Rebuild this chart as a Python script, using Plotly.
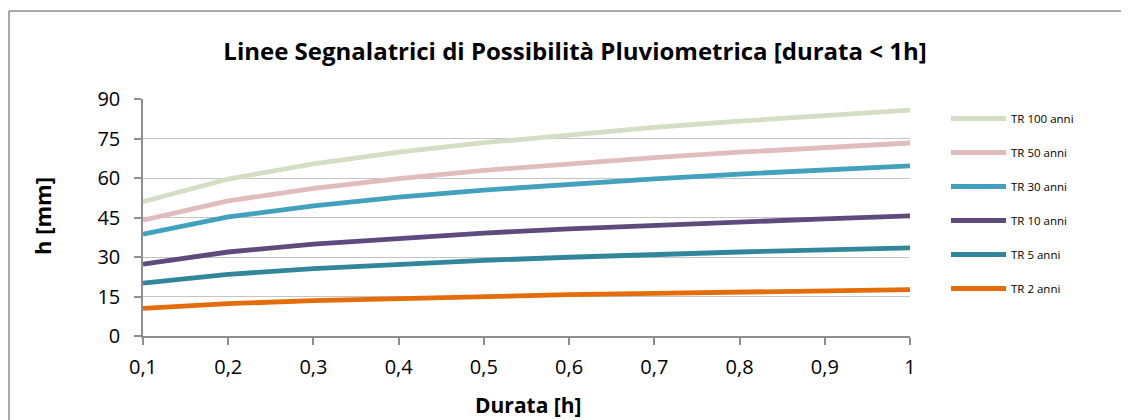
import plotly.graph_objects as go

durata = [0.1, 0.2, 0.3, 0.4, 0.5, 0.6, 0.7, 0.8, 0.9, 1.0]

tr100 = [51.0, 59.6, 65.4, 69.8, 73.4, 76.4, 79.2, 81.6, 83.8, 85.8]
tr50 = [44.0, 51.3, 56.1, 59.8, 62.9, 65.5, 67.7, 69.8, 71.6, 73.3]
tr30 = [38.7, 45.2, 49.4, 52.7, 55.4, 57.7, 59.7, 61.5, 63.1, 64.6]
tr10 = [27.3, 31.9, 34.9, 37.2, 39.1, 40.7, 42.1, 43.4, 44.5, 45.6]
tr5 = [20.1, 23.4, 25.6, 27.3, 28.7, 29.9, 31.0, 31.9, 32.7, 33.5]
tr2 = [10.5, 12.3, 13.4, 14.3, 15.1, 15.7, 16.2, 16.7, 17.2, 17.6]

series_names = ["TR 100 anni", "TR 50 anni", "TR 30 anni", "TR 10 anni", "TR 5 anni", "TR 2 anni"]
series_values = [tr100, tr50, tr30, tr10, tr5, tr2]
series_colors = ["#D3DEC3", "#E1BCBC", "#42A2BD", "#5E4A7D", "#31869B", "#E46C0A"]

x_ticks = [0.1, 0.2, 0.3, 0.4, 0.5, 0.6, 0.7, 0.8, 0.9, 1.0]
x_tick_labels = ["0,1", "0,2", "0,3", "0,4", "0,5", "0,6", "0,7", "0,8", "0,9", "1"]
y_ticks = [0, 15, 30, 45, 60, 75, 90]

FONT = "'Open Sans', Lato, sans-serif"

fig = go.Figure()
for i, (name, vals, col) in enumerate(zip(series_names, series_values, series_colors)):
    fig.add_trace(go.Scatter(
        x=durata, y=vals, name=name, mode="lines", legendgroup=f"g{i}",
        line=dict(color=col, width=4.8),
    ))

# page is offset by 8px body margin; coordinates below are figure coords
W, H = 1121, 412
ml, mr, mt, mb = 135, 219, 91, 84
pw, ph = W - ml - mr, H - mt - mb

def px_x(x):
    return (x - ml) / pw

def px_y(y):
    return (H - mb - y) / ph

fig.update_layout(
    width=W, height=H,
    margin=dict(l=ml, r=mr, t=mt, b=mb),
    paper_bgcolor="white", plot_bgcolor="white",
    font=dict(family=FONT, color="#000000"),
    title=dict(
        text="<b>Linee Segnalatrici di Possibilità Pluviometrica [durata &lt; 1h]</b>",
        x=567 / W, xanchor="center", y=1 - 44 / H, yanchor="middle",
        font=dict(size=24, family=FONT),
    ),
    xaxis=dict(
        range=[0.1, 1.0], tickvals=x_ticks, ticktext=x_tick_labels,
        showgrid=False, zeroline=False, showline=True, linecolor="#8E8E8E", linewidth=1.5,
        ticks="outside", ticklen=7, tickcolor="#8E8E8E", tickwidth=1.5,
        tickfont=dict(size=20), ticklabelstandoff=5, fixedrange=True,
    ),
    yaxis=dict(
        range=[0, 90], tickvals=y_ticks,
        showgrid=True, gridcolor="#C4C4C4", gridwidth=1.2,
        zeroline=False, showline=True, linecolor="#8E8E8E", linewidth=1.5,
        ticks="outside", ticklen=7, tickcolor="#8E8E8E", tickwidth=1.5,
        tickfont=dict(size=20), ticklabelstandoff=10, fixedrange=True,
    ),
    legend=dict(
        x=px_x(938), xanchor="left", y=px_y(96), yanchor="top",
        font=dict(size=11.5, family=FONT), tracegroupgap=15,
        itemwidth=55, bgcolor="rgba(0,0,0,0)",
    ),
    annotations=[
        dict(text="<b>Durata [h]</b>", xref="paper", yref="paper",
             x=px_x(520), y=px_y(397), xanchor="center", yanchor="middle",
             showarrow=False, font=dict(size=21, family=FONT)),
        dict(text="<b>h [mm]</b>", xref="paper", yref="paper",
             x=px_x(34), y=px_y(208), xanchor="center", yanchor="middle",
             textangle=-90, showarrow=False, font=dict(size=22, family=FONT)),
    ],
    shapes=[
        dict(type="line", xref="paper", yref="paper",
             x0=px_x(1), x1=px_x(1130), y0=px_y(3), y1=px_y(3),
             line=dict(color="#8C8C8C", width=1.5)),
        dict(type="line", xref="paper", yref="paper",
             x0=px_x(1), x1=px_x(1), y0=px_y(3), y1=px_y(420),
             line=dict(color="#8C8C8C", width=1.5)),
    ],
)

fig.write_html("out.html")
